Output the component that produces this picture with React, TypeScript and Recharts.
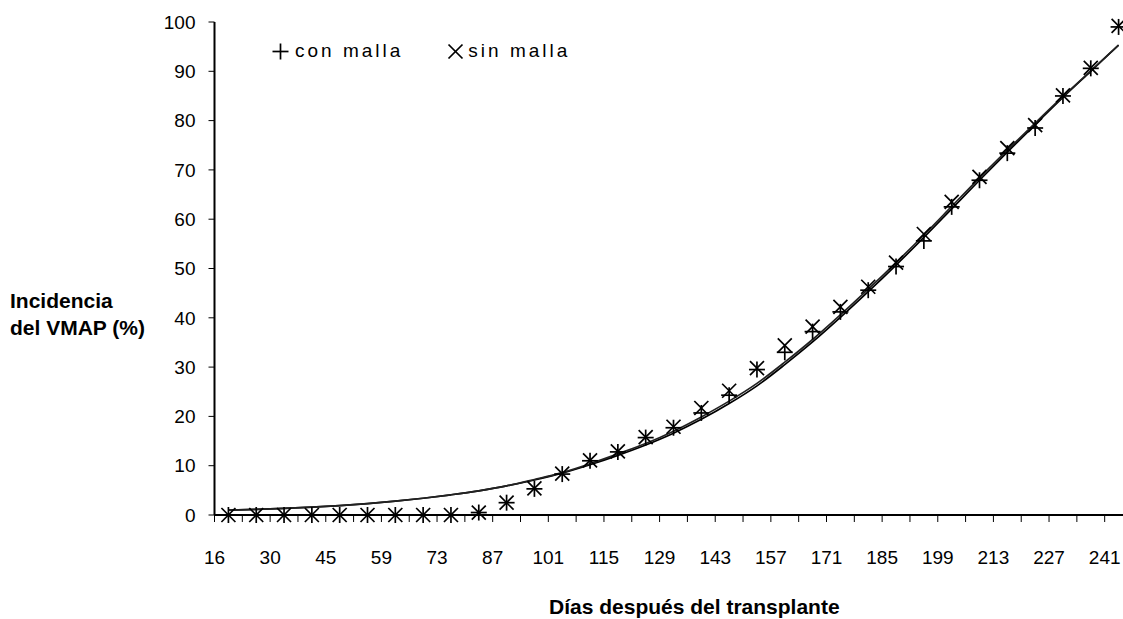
import React from 'react';
import { ComposedChart, Line, Scatter, XAxis, YAxis, Legend } from 'recharts';

const days = [16, 23, 30, 38, 45, 52, 59, 66, 73, 80, 87, 94, 101, 108, 115, 122, 129, 136, 143, 150, 157, 164, 171, 178, 185, 192, 199, 206, 213, 220, 227, 234, 241];

// observed incidence (%)
const conMalla = [0, 0, 0, 0, 0, 0, 0, 0, 0, 0.5, 2.5, 5.3, 8.3, 11.0, 12.8, 15.7, 17.7, 20.7, 24.3, 29.5, 33.0, 37.2, 41.2, 45.6, 50.4, 55.6, 62.5, 67.9, 73.4, 78.5, 85.0, 90.6, 99.0];
const sinMalla = [0, 0, 0, 0, 0, 0, 0, 0, 0, 0.5, 2.5, 5.4, 8.4, 11.1, 12.9, 15.8, 17.9, 21.7, 25.2, 29.8, 34.4, 38.2, 42.2, 46.3, 51.2, 57.0, 63.5, 68.6, 74.4, 79.1, 85.1, 90.7, 99.2];

// fitted curves
const ajusteCon = [1.0, 1.15, 1.35, 1.6, 1.9, 2.3, 2.8, 3.4, 4.1, 4.9, 5.9, 7.1, 8.5, 10.2, 12.1, 14.2, 16.6, 19.4, 22.6, 26.2, 30.5, 35.1, 40.1, 45.3, 50.7, 56.3, 62.1, 67.9, 73.6, 79.2, 84.7, 90.0, 95.3];
const ajusteSin = [1.0, 1.15, 1.35, 1.6, 1.9, 2.3, 2.8, 3.4, 4.1, 4.9, 5.9, 7.2, 8.6, 10.4, 12.4, 14.5, 17.0, 19.9, 23.1, 26.7, 31.0, 35.6, 40.6, 45.8, 51.2, 56.8, 62.6, 68.4, 74.0, 79.5, 84.9, 90.1, 95.3];

const yTicks = [0, 10, 20, 30, 40, 50, 60, 70, 80, 90, 100];

const data = days.map((d, i) => ({
  day: d,
  con: conMalla[i],
  sin: sinMalla[i],
  fitCon: ajusteCon[i],
  fitSin: ajusteSin[i],
}));

const FONT = '"Liberation Sans", Arial, sans-serif';
const W = 1123;
const H = 619;
// the original picture is cropped on the right, so the chart is drawn a bit wider
const CHART_W = 1134;
const Y_AXIS_W = 214.5;
const RIGHT = 1.5;
const BAND = (CHART_W - Y_AXIS_W - RIGHT) / days.length;

const PlusShape = (props: any) => {
  const { cx, cy } = props;
  if (cx == null || cy == null) return null;
  return (
    <g stroke="#000" strokeWidth={1.7}>
      <line x1={cx - 8} y1={cy} x2={cx + 8} y2={cy} />
      <line x1={cx} y1={cy - 8} x2={cx} y2={cy + 8} />
    </g>
  );
};

const CrossShape = (props: any) => {
  const { cx, cy } = props;
  if (cx == null || cy == null) return null;
  return (
    <g stroke="#000" strokeWidth={1.7}>
      <line x1={cx - 7} y1={cy - 7} x2={cx + 7} y2={cy + 7} />
      <line x1={cx - 7} y1={cy + 7} x2={cx + 7} y2={cy - 7} />
    </g>
  );
};

// Excel style: tick marks between categories, labels on every other tick mark
const DayTick = (props: any) => {
  const { x, y, payload, index } = props;
  const left = x - BAND / 2;
  const last = index === days.length - 1;
  return (
    <g>
      <line x1={left} y1={y} x2={left} y2={y + 7} stroke="#000" strokeWidth={1} />
      {last && <line x1={x + BAND / 2} y1={y} x2={x + BAND / 2} y2={y + 7} stroke="#000" strokeWidth={1} />}
      {index % 2 === 0 && (
        <text x={left} y={y + 49} textAnchor="middle" fontSize={19} fontFamily={FONT} fill="#000">
          {payload.value}
        </text>
      )}
    </g>
  );
};

const LegendBox = () => (
  <div style={{ display: 'flex', alignItems: 'center', fontFamily: FONT, fontSize: 19, letterSpacing: 3, color: '#000', whiteSpace: 'nowrap' }}>
    <svg width={17} height={17} style={{ marginRight: 6 }}>
      <PlusShape cx={8.5} cy={8.5} />
    </svg>
    <span>con malla</span>
    <svg width={17} height={17} style={{ marginLeft: 44, marginRight: 4 }}>
      <CrossShape cx={8.5} cy={8.5} />
    </svg>
    <span>sin malla</span>
  </div>
);

const XTitle = () => (
  <text x={549} y={614} textAnchor="start" fontSize={21} fontWeight="bold" fontFamily={FONT} fill="#000">
    Días después del transplante
  </text>
);

const YTitle = () => (
  <text x={10} fontSize={21} fontWeight="bold" fontFamily={FONT} fill="#000">
    <tspan x={10} y={307.5}>Incidencia</tspan>
    <tspan x={10} y={335}>del VMAP (%)</tspan>
  </text>
);

export default function App() {
  return (
    <div style={{ position: 'absolute', left: 0, top: 0, width: W, height: H, overflow: 'hidden', background: '#fff' }}>
      <ComposedChart width={CHART_W} height={H} data={data} margin={{ top: 22, right: RIGHT, bottom: 0, left: 0 }}>
        <XAxis
          dataKey="day"
          scale="band"
          interval={0}
          height={104}
          tickLine={false}
          tickSize={0}
          tickMargin={0}
          tick={<DayTick />}
          axisLine={{ stroke: '#000', strokeWidth: 2 }}
          label={<XTitle />}
        />
        <YAxis
          type="number"
          domain={[0, 100]}
          ticks={yTicks}
          width={Y_AXIS_W}
          tickSize={6}
          tickMargin={13}
          interval={0}
          tick={{ fontSize: 19, fontFamily: FONT, fill: '#000' }}
          tickLine={{ stroke: '#000' }}
          axisLine={{ stroke: '#000', strokeWidth: 2 }}
          label={<YTitle />}
        />
        <Line type="monotone" dataKey="fitCon" stroke="#000" strokeWidth={1.7} dot={false} isAnimationActive={false} />
        <Line type="monotone" dataKey="fitSin" stroke="#222" strokeWidth={1.7} dot={false} isAnimationActive={false} />
        <Scatter dataKey="con" name="con malla" shape={<PlusShape />} isAnimationActive={false} />
        <Scatter dataKey="sin" name="sin malla" shape={<CrossShape />} isAnimationActive={false} />
        <Legend
          layout="horizontal"
          verticalAlign="middle"
          align="center"
          content={<LegendBox />}
          wrapperStyle={{ position: 'absolute', top: 40, left: 272, width: 'auto' }}
        />
      </ComposedChart>
    </div>
  );
}
